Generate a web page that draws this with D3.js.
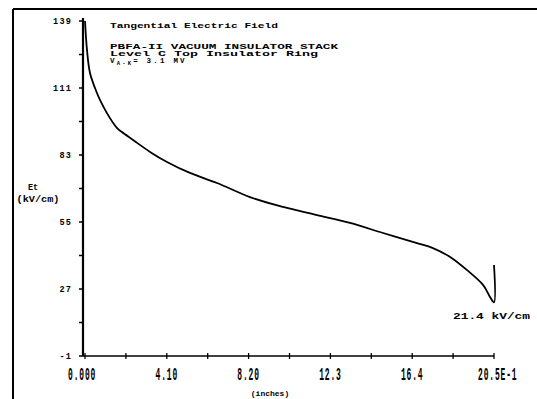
<!DOCTYPE html>
<html>
<head>
<meta charset="UTF-8">
<title>Tangential Electric Field</title>
<script src="https://cdn.jsdelivr.net/npm/d3@7"></script>
<style>
  body { margin: 0; padding: 0; background: #fff; }
  text { font-family: "Liberation Mono", "DejaVu Sans Mono", monospace; font-weight: bold; fill: #000; }
</style>
</head>
<body>
<script>
// position along insulator (inches) and tangential field (kV/cm)
// (last two points share x: the vertical spike at the end of the ring)
var position = [0, 0.10, 0.25, 0.60, 0.75, 1.10, 1.60, 1.85, 2.41, 3.26, 4.11, 5.26, 6.62, 8.27, 9.92,
                11.63, 13.28, 14.94, 16.64, 17.44, 18.30, 19.15, 19.95, 20.30, 20.50, 20.50];
var field    = [139, 126.9, 117.3, 108.9, 106.0, 100.5, 94.3, 92.6, 89.3, 84.3, 80.1, 75.5, 71.3, 65.4,
                61.3, 57.9, 54.6, 50.4, 46.2, 44.1, 40.4, 34.9, 28.7, 23.7, 21.4, 37.0];
var yTicks = [-1, 27, 55, 83, 111, 139];
var xTicks = [0, 4.1, 8.2, 12.3, 16.4, 20.5];
var xTickLabels = ["0.000", "4.10", "8.20", "12.3", "16.4", "20.5E-1"];
var titleLines = ["Tangential Electric Field", "PBFA-II VACUUM INSULATOR STACK", "Level C Top Insulator Ring"];
var endLabel = "21.4 kV/cm";

var w = 537, h = 399;
var svg = d3.select("body").append("svg")
  .attr("width", w)
  .attr("height", h);

var x = d3.scaleLinear().domain([0, 20.5]).range([85, 494]);
var y = d3.scaleLinear().domain([-1, 139]).range([356, 21]);

// frame from the scan
svg.append("line").attr("x1", 13).attr("y1", 9).attr("x2", 537).attr("y2", 9)
  .attr("stroke", "#000").attr("stroke-width", 2);
svg.append("line").attr("x1", 13).attr("y1", 9).attr("x2", 13).attr("y2", 399)
  .attr("stroke", "#000").attr("stroke-width", 2);

// y axis
var yMinor = d3.range(-1, 139 + 1, 14);
var yAxis = svg.append("g").attr("transform", "translate(83,0)");
yAxis.append("line").attr("x1", 0).attr("x2", 0).attr("y1", y(139) - 3).attr("y2", y(-1))
  .attr("stroke", "#000").attr("stroke-width", 2.2);
yAxis.selectAll(".ymin").data(yMinor).enter().append("line")
  .attr("x1", -4).attr("x2", 0)
  .attr("y1", function(d) { return y(d); }).attr("y2", function(d) { return y(d); })
  .attr("stroke", "#000").attr("stroke-width", 1.5);
yAxis.selectAll(".ylab").data(yTicks).enter().append("text")
  .attr("x", -11).attr("y", function(d) { return y(d) + 3; })
  .attr("text-anchor", "end")
  .attr("font-size", 8.5)
  .attr("letter-spacing", 1.2)
  .text(function(d) { return d; });

// x axis
var xMinor = d3.range(0, 20.5 + 0.01, 2.05);
var xAxis = svg.append("g").attr("transform", "translate(0,356)");
xAxis.append("line").attr("x1", 83).attr("x2", x(20.5)).attr("y1", 0).attr("y2", 0)
  .attr("stroke", "#000").attr("stroke-width", 1.6);
xAxis.selectAll(".xmin").data(xMinor).enter().append("line")
  .attr("x1", function(d) { return x(d); }).attr("x2", function(d) { return x(d); })
  .attr("y1", -3).attr("y2", 3)
  .attr("stroke", "#000").attr("stroke-width", 1.3);
xAxis.selectAll(".xlab").data(xTicks).enter().append("text")
  .attr("transform", function(d, i) {
    var px = i === 0 ? 68 : (i === xTicks.length - 1 ? 478 : x(d));
    return "translate(" + px + ",24) scale(0.42,1)";
  })
  .attr("text-anchor", function(d, i) { return (i === 0 || i === xTicks.length - 1) ? "start" : "middle"; })
  .attr("font-size", 19)
  .attr("letter-spacing", 2)
  .text(function(d, i) { return xTickLabels[i]; });

svg.append("text").attr("x", 270).attr("y", 396).attr("text-anchor", "middle")
  .attr("font-size", 8).text("(inches)");

// y title
svg.append("text").attr("x", 33).attr("y", 190).attr("text-anchor", "middle")
  .attr("font-size", 8.5).text("Et");
svg.append("text").attr("x", 38).attr("y", 202).attr("text-anchor", "middle")
  .attr("font-size", 8.5).attr("textLength", 43).attr("lengthAdjust", "spacingAndGlyphs")
  .text("(kV/cm)");

// title block
var titleLen = [168, 228, 208];
var titleY = [28, 49, 56];
svg.selectAll(".title").data(titleLines).enter().append("text")
  .attr("x", 110).attr("y", function(d, i) { return titleY[i]; })
  .attr("font-size", 7.5)
  .attr("textLength", function(d, i) { return titleLen[i]; })
  .attr("lengthAdjust", "spacingAndGlyphs")
  .text(function(d) { return d; });
var vt = svg.append("text").attr("x", 110).attr("y", 63).attr("font-size", 7.5)
  .attr("letter-spacing", 2.2);
vt.append("tspan").text("V");
vt.append("tspan").attr("dy", 1.5).attr("font-size", 5.5).text("A-K");
vt.append("tspan").attr("dy", -1.5).text("= 3.1 MV");

// curve
var pts = field.map(function(v, i) { return [position[i], v]; });
var line = d3.line()
  .x(function(d) { return x(d[0]); })
  .y(function(d) { return y(d[1]); })
  .curve(d3.curveCatmullRom.alpha(0.5));
svg.append("path")
  .attr("d", line(pts))
  .attr("fill", "none")
  .attr("stroke", "#000")
  .attr("stroke-width", 1.8);

svg.append("text").attr("x", 453).attr("y", 319)
  .attr("font-size", 8.5).attr("textLength", 77).attr("lengthAdjust", "spacingAndGlyphs")
  .text(endLabel);
</script>
</body>
</html>
